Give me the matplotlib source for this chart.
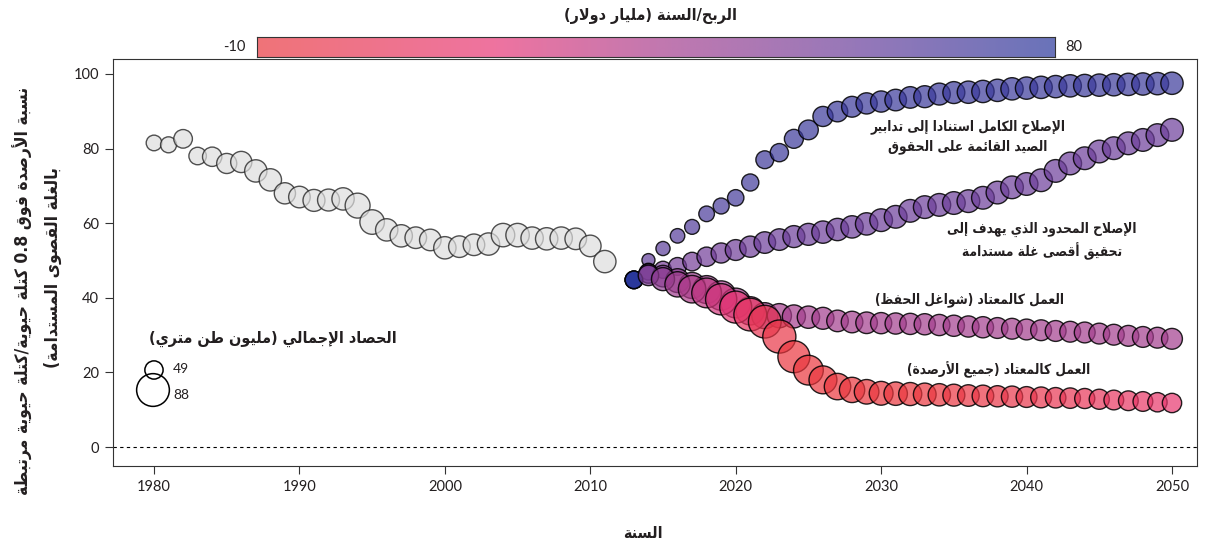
import re
import matplotlib
matplotlib.use('Agg')
import matplotlib.pyplot as plt
import numpy as np
from matplotlib.colors import LinearSegmentedColormap, Normalize

# ── Data ─────────────────────────────────────────────────────────────────────
hist_years = list(range(1980, 2012))
hist_share = [81.5, 81.0, 82.6, 78.0, 77.8, 76.0, 76.4, 74.0, 71.6, 68.0,
              67.0, 66.1, 66.2, 66.5, 64.7, 60.3, 58.2, 56.6, 56.1, 55.5,
              53.4, 53.7, 54.2, 54.4, 56.8, 56.8, 56.0, 55.8, 56.0, 55.8,
              53.9, 49.7]
hist_catch = [42, 43, 50, 47, 52, 54, 57, 60, 60, 57,
              58, 59, 59, 60, 67, 66, 60, 60, 58, 58,
              60, 58, 58, 60, 63, 63, 60, 60, 60, 58,
              58, 60]

proj_years = list(range(2013, 2051))

full_share = [44.8, 50.1, 53.2, 56.6, 59.0, 62.5, 64.6, 66.8, 70.9, 77.0,
              78.9, 82.6, 85.0, 88.6, 89.9, 91.2, 92.1, 92.6, 93.0, 93.7,
              93.9, 94.6, 95.0, 95.1, 95.3, 95.6, 96.0, 96.2, 96.4, 96.6,
              96.8, 96.9, 97.0, 97.1, 97.2, 97.3, 97.4, 97.5]
full_catch = [47, 35, 38, 39, 40, 42, 43, 44, 46, 48,
              49, 51, 53, 54, 55, 56, 57, 57, 58, 58,
              59, 59, 59, 60, 60, 60, 60, 60, 60, 60,
              60, 60, 60, 60, 60, 60, 60, 60]
full_profit = [80, 60, 62, 64, 66, 68, 69, 70, 71, 72,
               73, 73, 74, 74, 74, 74, 74, 74, 74, 74,
               74, 74, 74, 74, 74, 74, 74, 74, 74, 74,
               74, 74, 74, 74, 74, 74, 74, 74]

msy_share = [44.8, 47.0, 47.5, 48.4, 49.7, 51.0, 52.0, 52.8, 53.7, 54.8,
             55.6, 56.4, 57.0, 57.6, 58.3, 59.0, 59.8, 60.8, 61.7, 63.3,
             64.3, 64.9, 65.4, 65.9, 66.8, 68.2, 69.6, 70.5, 71.5, 74.0,
             76.0, 77.4, 79.2, 80.1, 81.4, 82.3, 83.6, 85.0]
msy_catch = [47, 45, 46, 48, 50, 52, 54, 56, 57, 58,
             58, 59, 59, 60, 60, 60, 60, 61, 61, 61,
             61, 61, 61, 61, 61, 61, 61, 61, 61, 61,
             61, 61, 61, 61, 61, 61, 61, 61]
msy_profit = [80, 52, 52, 53, 53, 54, 54, 55, 55, 56,
              56, 56, 56, 56, 56, 56, 56, 56, 56, 56,
              56, 56, 56, 56, 56, 56, 56, 56, 56, 56,
              56, 56, 56, 56, 56, 56, 56, 56]

bau_cc_share = [44.8, 46.5, 45.8, 44.6, 43.3, 42.2, 40.6, 38.6, 36.5, 35.2,
                35.2, 35.0, 34.8, 34.5, 33.8, 33.5, 33.3, 33.2, 33.1, 33.0,
                32.9, 32.7, 32.5, 32.3, 32.1, 31.9, 31.7, 31.5, 31.3, 31.1,
                30.9, 30.7, 30.4, 30.1, 29.8, 29.5, 29.3, 29.0]
bau_cc_catch = [47, 52, 58, 64, 70, 75, 79, 80, 76, 70,
                65, 62, 60, 59, 58, 58, 58, 57, 57, 57,
                57, 57, 57, 57, 57, 56, 56, 56, 56, 56,
                56, 56, 56, 56, 56, 56, 56, 56]
bau_cc_profit = [80, 52, 47, 43, 40, 38, 37, 36, 36, 36,
                 36, 36, 37, 37, 37, 37, 37, 37, 37, 37,
                 37, 37, 37, 37, 37, 37, 37, 37, 37, 37,
                 37, 37, 37, 37, 37, 37, 37, 37]

bau_all_share = [44.8, 46.0, 45.0, 43.6, 42.3, 41.3, 39.6, 37.5, 35.5, 33.6,
                 29.6, 24.2, 20.6, 18.0, 16.2, 15.3, 14.8, 14.4, 14.3, 14.2,
                 14.1, 14.0, 13.9, 13.8, 13.7, 13.6, 13.5, 13.4, 13.3, 13.2,
                 13.1, 13.0, 12.8, 12.6, 12.4, 12.2, 12.0, 11.8]
bau_all_catch = [47, 55, 62, 68, 74, 80, 84, 86, 88, 88,
                 89, 86, 80, 75, 71, 68, 66, 64, 63, 62,
                 61, 60, 59, 58, 58, 57, 57, 56, 56, 55,
                 55, 54, 54, 53, 53, 53, 52, 52]
bau_all_profit = [80, 50, 44, 38, 33, 28, 23, 16, 8, 1,
                  -5, -9, -10, -10, -10, -10, -10, -10, -10, -10,
                  -9, -9, -8, -7, -6, -5, -4, -3, -2, 0,
                  1, 3, 4, 6, 7, 9, 11, 13]

legend_catch = [49, 88]

# ── Arabic shaping (presentation forms + visual order) ──────────────────────
_AR = {
    'ء': (0xFE80, 1), 'آ': (0xFE81, 2), 'أ': (0xFE83, 2), 'ؤ': (0xFE85, 2),
    'إ': (0xFE87, 2), 'ئ': (0xFE89, 4), 'ا': (0xFE8D, 2), 'ب': (0xFE8F, 4),
    'ة': (0xFE93, 2), 'ت': (0xFE95, 4), 'ث': (0xFE99, 4), 'ج': (0xFE9D, 4),
    'ح': (0xFEA1, 4), 'خ': (0xFEA5, 4), 'د': (0xFEA9, 2), 'ذ': (0xFEAB, 2),
    'ر': (0xFEAD, 2), 'ز': (0xFEAF, 2), 'س': (0xFEB1, 4), 'ش': (0xFEB5, 4),
    'ص': (0xFEB9, 4), 'ض': (0xFEBD, 4), 'ط': (0xFEC1, 4), 'ظ': (0xFEC5, 4),
    'ع': (0xFEC9, 4), 'غ': (0xFECD, 4), 'ف': (0xFED1, 4), 'ق': (0xFED5, 4),
    'ك': (0xFED9, 4), 'ل': (0xFEDD, 4), 'م': (0xFEE1, 4), 'ن': (0xFEE5, 4),
    'ه': (0xFEE9, 4), 'و': (0xFEED, 2), 'ى': (0xFEEF, 2), 'ي': (0xFEF1, 4),
}
_LAM_ALEF = {'آ': 0xFEF5, 'أ': 0xFEF7, 'إ': 0xFEF9, 'ا': 0xFEFB}
_MIRROR = {'(': ')', ')': '('}


def _shape(text):
    toks = []
    i = 0
    while i < len(text):
        c = text[i]
        if c == 'ل' and i + 1 < len(text) and text[i + 1] in _LAM_ALEF:
            toks.append(('LA', _LAM_ALEF[text[i + 1]]))
            i += 2
        else:
            toks.append((c, None))
            i += 1

    def is_ar(t):
        return t == 'LA' or t in _AR

    def dual(t):
        return t in _AR and _AR[t][1] == 4

    out = []
    for k, (c, lig) in enumerate(toks):
        prev = toks[k - 1][0] if k > 0 else None
        nxt = toks[k + 1][0] if k + 1 < len(toks) else None
        if c == 'LA':
            jp = prev is not None and dual(prev)
            out.append(chr(lig + (1 if jp else 0)))
            continue
        if c not in _AR:
            out.append(c)
            continue
        base, n = _AR[c]
        jp = n > 1 and prev is not None and dual(prev)
        jn = n == 4 and nxt is not None and is_ar(nxt)
        if n == 1:
            out.append(chr(base))
        elif n == 2:
            out.append(chr(base + (1 if jp else 0)))
        else:
            idx = 3 if (jp and jn) else 1 if jp else 2 if jn else 0
            out.append(chr(base + idx))
    return ''.join(out)


def ar(text):
    lines = []
    for line in text.split('\n'):
        s = _shape(line)
        runs = re.findall(r'[0-9]+(?:\.[0-9]+)?|[^0-9]+', s)
        vis = []
        for r in reversed(runs):
            if r[0].isdigit():
                vis.append(r)
            else:
                vis.append(''.join(_MIRROR.get(ch, ch) for ch in reversed(r)))
        lines.append(''.join(vis))
    return '\n'.join(lines)


# ── Style ────────────────────────────────────────────────────────────────────
DPI = 100
ALPHA = 0.7
TXT = '#231f20'
AR_FONT = dict(family='DejaVu Sans', fontweight='bold', fontstretch='condensed')
NUM_FONT = 'Lato'

cmap = LinearSegmentedColormap.from_list('profit', [
    (0.00, (234/255, 55/255, 62/255)),
    (0.30, (231/255, 55/255, 119/255)),
    (0.50, (169/255, 62/255, 141/255)),
    (0.75, (105/255, 62/255, 155/255)),
    (1.00, (41/255, 55/255, 155/255)),
])
norm = Normalize(-10, 80)


def bubble(catch):
    # diameter in px proportional to catch, converted to points^2
    d_pt = 0.372 * np.asarray(catch, dtype=float) * 72 / DPI
    return d_pt ** 2


def faces(profit):
    cols = cmap(norm(np.asarray(profit, dtype=float)))
    cols[:, 3] = ALPHA
    return cols


fig = plt.figure(figsize=(12.11, 5.44), dpi=DPI, facecolor='white')
ax = fig.add_axes([113/1211, 1 - 466/544, 1084/1211, 407/544])
ax.set_xlim(1977.18, 2051.72)
ax.set_ylim(-5.09, 104.0)

ax.axhline(0, color='black', lw=0.8, ls=(0, (3, 3)), zorder=1)

# historical series
ax.scatter(hist_years, hist_share, s=bubble(hist_catch),
           facecolors=(222/255, 222/255, 222/255, ALPHA),
           edgecolors=(0.15, 0.15, 0.15, 0.8), linewidths=1.0, zorder=2)

# projections
for share, catch, profit in [(full_share, full_catch, full_profit),
                             (msy_share, msy_catch, msy_profit),
                             (bau_cc_share, bau_cc_catch, bau_cc_profit),
                             (bau_all_share, bau_all_catch, bau_all_profit)]:
    ax.scatter(proj_years, share, s=bubble(catch), facecolors=faces(profit),
               edgecolors=(0, 0, 0, 0.85), linewidths=1.0, zorder=3)

# scenario labels
ax.text(2035.97, 83.2, ar('الإصلاح الكامل استنادا إلى تدابير\nالصيد القائمة على الحقوق'),
        ha='center', va='center', ma='center', fontsize=9.8, color=TXT,
        linespacing=1.4, zorder=5, **AR_FONT)
ax.text(2041.06, 55.2, ar('الإصلاح المحدود الذي يهدف إلى\nتحقيق أقصى غلة مستدامة'),
        ha='center', va='center', ma='center', fontsize=9.8, color=TXT,
        linespacing=1.4, zorder=5, **AR_FONT)
ax.text(2036.1, 39.4, ar('العمل كالمعتاد (شواغل الحفظ)'),
        ha='center', va='center', fontsize=9.8, color=TXT, zorder=5, **AR_FONT)
ax.text(2038.1, 20.6, ar('العمل كالمعتاد (جميع الأرصدة)'),
        ha='center', va='center', fontsize=9.8, color=TXT, zorder=5, **AR_FONT)

# size legend
ax.text(0.1476, 0.312, ar('الحصاد الإجمالي (مليون طن متري)'), transform=ax.transAxes,
        ha='center', va='center', fontsize=11.5, color=TXT, **AR_FONT)
ax.scatter([0.0378, 0.0369], [0.2359, 0.1867], s=bubble(legend_catch),
           transform=ax.transAxes, facecolors='none', edgecolors='black',
           linewidths=1.1, zorder=4)
for yy, val in zip([0.2383, 0.1744], legend_catch):
    ax.text(0.0554, yy, str(val), transform=ax.transAxes, ha='left', va='center',
            fontsize=10, color=TXT, family=NUM_FONT)

# axes styling
ax.set_xticks([1980, 1990, 2000, 2010, 2020, 2030, 2040, 2050])
ax.set_yticks([0, 20, 40, 60, 80, 100])
ax.tick_params(direction='out', length=6, width=0.8, color='#333333',
               labelsize=10.5, labelcolor=TXT, pad=4)
for lab in ax.get_xticklabels() + ax.get_yticklabels():
    lab.set_family(NUM_FONT)
for sp in ax.spines.values():
    sp.set_color('#333333')
    sp.set_linewidth(0.8)

fig.text(643/1211, 1 - 533/544, ar('السنة'), ha='center', va='center',
         fontsize=11.5, color=TXT, **AR_FONT)
fig.text(23/1211, 1 - 291/544,
         ar('نسبة الأرصدة فوق 0.8 كتلة حيوية/كتلة حيوية مرتبطة'),
         rotation=90, ha='center', va='center', fontsize=12.5, color=TXT, **AR_FONT)
fig.text(53/1211, 1 - 268/544, ar('بالغلة القصوى المستدامة)'),
         rotation=90, ha='center', va='center', fontsize=12.5, color=TXT, **AR_FONT)

# colour bar
cax = fig.add_axes([257/1211, 1 - 57/544, 798/1211, 20/544])
cax.imshow(np.linspace(-10, 80, 512)[None, :], cmap=cmap, norm=norm, alpha=ALPHA,
           aspect='auto', extent=[-10, 80, 0, 1])
cax.set_xticks([])
cax.set_yticks([])
for sp in cax.spines.values():
    sp.set_color('#333333')
    sp.set_linewidth(0.8)
fig.text(245/1211, 1 - 47/544, '-10', ha='right', va='center', fontsize=10.5,
         color=TXT, family=NUM_FONT)
fig.text(1065/1211, 1 - 47/544, '80', ha='left', va='center', fontsize=10.5,
         color=TXT, family=NUM_FONT)
fig.text(650/1211, 1 - 16/544, ar('الربح/السنة (مليار دولار)'), ha='center',
         va='center', fontsize=11.5, color=TXT, **AR_FONT)

fig.savefig('out.png', dpi=DPI, facecolor='white')
